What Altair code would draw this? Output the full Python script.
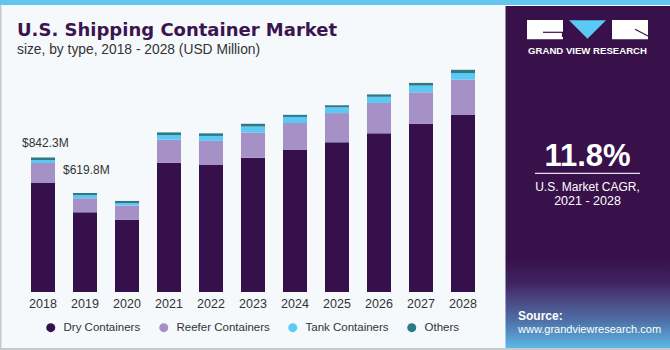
import altair as alt
import pandas as pd

years = ["2018", "2019", "2020", "2021", "2022", "2023", "2024", "2025", "2026", "2027", "2028"]
dry = [682.3, 498.8, 451, 809, 795, 841, 889, 937, 993, 1052, 1108]
reefer = [125, 88, 90, 144, 151, 157, 169, 183, 190, 198, 221]
tank = [19, 19, 15, 29, 31, 38, 38, 36, 39, 42, 41]
others = [16, 14, 14, 17, 16, 17, 13, 13, 15, 17, 21]
types = ["Dry Containers", "Reefer Containers", "Tank Containers", "Others"]
colors = ["#36104a", "#a591c6", "#5cc8f4", "#2e7888"]
label_texts = ["$842.3M", "$619.8M"]

FONT = "Liberation Sans, Arial, sans-serif"
TITLE_FONT = "DejaVu Sans, Liberation Sans, sans-serif"
OX, OY = 22, 52  # plot origin in canvas pixels

rows = []
for i, yr in enumerate(years):
    for k, (t, vals) in enumerate(zip(types, [dry, reefer, tank, others])):
        rows.append({"year": yr, "type": t, "value": vals[i], "order": k})
df = pd.DataFrame(rows)
totals = [round(a + b + c + d, 1) for a, b, c, d in zip(dry, reefer, tank, others)]
ann = pd.DataFrame({"year": years[:2], "total": totals[:2], "label": label_texts})

xscale = alt.Scale(domain=years, paddingInner=0.4286, paddingOuter=0.2143)
yscale = alt.Scale(domain=[0, 1502.4], nice=False, zero=True)
xaxis = alt.Axis(title=None, labelAngle=0, ticks=False, tickSize=0, domain=False,
                 grid=False, labelFontSize=12.5, labelColor="#333333", labelFont=FONT,
                 labelPadding=15, labelBaseline="alphabetic")

dummy = alt.Data(values=[{"a": 1}])


def px(x):
    return alt.value(x - OX)


def py(y):
    return alt.value(y - OY)


def rect(x1, x2, y1, y2, color):
    return alt.Chart(dummy).mark_rect(color=color).encode(
        x=px(x1), x2=px(x2), y=py(y1), y2=py(y2))


def rule(x1, y1, x2, y2, color, w=1.0):
    return alt.Chart(dummy).mark_rule(color=color, strokeWidth=w).encode(
        x=px(x1), y=py(y1), x2=px(x2), y2=py(y2))


def text(s, x, y, size, color, weight="normal", align="left", font=FONT):
    return alt.Chart(dummy).mark_text(text=s, font=font, fontSize=size, color=color,
                                      fontWeight=weight, align=align,
                                      baseline="alphabetic").encode(x=px(x), y=py(y))


panel_grad = alt.LinearGradient(
    gradient="linear", x1=0, y1=0, x2=0, y2=1,
    stops=[
        alt.GradientStop(offset=0, color="#38114b"),
        alt.GradientStop(offset=0.74, color="#38114b"),
        alt.GradientStop(offset=0.81, color="#3f2462"),
        alt.GradientStop(offset=0.86, color="#4b4782"),
        alt.GradientStop(offset=0.92, color="#4e70a6"),
        alt.GradientStop(offset=1, color="#5bb9e6"),
    ])

panel = alt.Chart(dummy).mark_rect(color=panel_grad).encode(
    x=px(505.5), x2=px(670), y=py(6), y2=py(348))

stripe = rect(0, 670, 0, 5, "#62c6ee")
left_border = rect(0, 1.5, 5, 350, "#c8c8c8")
bottom_border = rect(0, 670, 348, 350, "#c8c8c8")

# logo
logo_g = rect(527, 563, 20, 39.3, "#ffffff")
logo_g1 = rule(543, 32.3, 563, 32.3, "#38114b", 1.2)
logo_g2 = rule(562.5, 32.3, 562.5, 37, "#38114b", 1.2)
logo_r = rect(612, 648, 20, 39.3, "#ffffff")
logo_r1 = rule(635, 29.3, 648, 36, "#38114b", 1.2)
tri = alt.Chart(dummy).mark_point(shape="M-1,-0.5L1,-0.5L0,0.5Z", filled=True,
                                  opacity=1, color="#5cc8f4", size=37 * 37).encode(
    x=px(587.5), y=py(29.6))

panel_texts = [
    text("GRAND VIEW RESEARCH", 587.5, 53.5, 9.6, "#ffffff", "bold", "center"),
    text("11.8%", 587.5, 165.7, 31, "#ffffff", "bold", "center"),
    text("U.S. Market CAGR,", 587.5, 191, 12, "#ffffff", "normal", "center"),
    text("2021 - 2028", 587.5, 205, 12.5, "#ffffff", "normal", "center"),
    text("Source:", 518, 320, 12, "#ffffff", "bold"),
    text("www.grandviewresearch.com", 518, 333, 11, "#ffffff"),
]
underline = rule(535, 173.3, 640, 173.3, "#e6e0ee", 1.2)

title = text("U.S. Shipping Container Market", 17, 36, 18, "#3a1550", "bold", font=TITLE_FONT)
subtitle = text("size, by type, 2018 - 2028 (USD Million)", 17, 53.5, 13.8, "#333333")

bars = alt.Chart(df).mark_bar().encode(
    x=alt.X("year:N", scale=xscale, axis=xaxis, sort=years),
    y=alt.Y("value:Q", stack="zero", scale=yscale, axis=None),
    color=alt.Color("type:N", scale=alt.Scale(domain=types, range=colors),
                    legend=alt.Legend(title=None, orient="none", direction="horizontal",
                                      legendX=23, legendY=269.5, symbolType="circle",
                                      symbolSize=81, symbolStrokeWidth=0, labelFontSize=11.5,
                                      labelFont=FONT, labelColor="#333333", labelOffset=7,
                                      columnPadding=17, padding=0)),
    order=alt.Order("order:Q", sort="ascending"),
)

ann1 = alt.Chart(ann.iloc[[0]]).mark_text(align="left", baseline="alphabetic", dx=-21, dy=-10,
                                          font=FONT, fontSize=12, color="#333333").encode(
    x=alt.X("year:N", scale=xscale, axis=xaxis, sort=years),
    y=alt.Y("total:Q", scale=yscale, axis=None),
    text="label:N")
ann2 = alt.Chart(ann.iloc[[1]]).mark_text(align="left", baseline="alphabetic", dx=-22, dy=-19,
                                          font=FONT, fontSize=12, color="#333333").encode(
    x=alt.X("year:N", scale=xscale, axis=xaxis, sort=years),
    y=alt.Y("total:Q", scale=yscale, axis=None),
    text="label:N")

chart = alt.layer(
    stripe, panel, left_border, bottom_border,
    logo_g, logo_g1, logo_g2, logo_r, logo_r1, tri,
    *panel_texts, underline, title, subtitle,
    bars, ann1, ann2,
).properties(
    width=462, height=240,
    autosize=alt.AutoSizeParams(type="none"),
    padding={"left": OX, "top": OY, "right": 670 - OX - 462, "bottom": 350 - OY - 240},
    background="#f5f9fc",
).configure_view(stroke=None)

chart.save("out.html", embed_options={"renderer": "svg", "actions": False})
